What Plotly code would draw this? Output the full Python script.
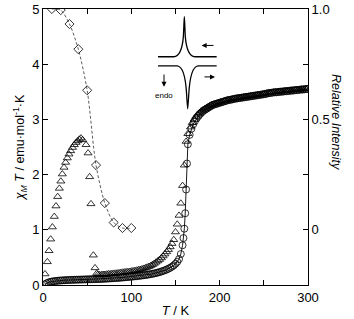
import plotly.graph_objects as go

# ---------------- data ----------------
# circles (chi_M T, left axis)
T_circ = [2, 4, 6, 8, 10, 12, 14, 16, 18, 20,
          22, 24, 26, 28, 30, 32, 34, 36, 38, 40,
          42, 44, 46, 48, 50, 52, 54, 56, 58, 60,
          62, 64, 66, 68, 70, 72, 74, 76, 78, 80,
          82, 84, 86, 88, 90, 92, 94, 96, 98, 100,
          102, 104, 106, 108, 110, 112, 114, 116, 118, 120,
          122, 124, 126, 128, 130, 132, 134, 136, 138, 140,
          142, 144, 146, 148, 150, 152, 154, 156, 158,
          159, 160, 161, 162, 163, 164,
          166, 168, 170, 172, 174, 176, 178, 180, 182, 184,
          186, 188, 190, 192, 194, 196, 198, 200, 202, 204,
          206, 208, 210, 212, 214, 216, 218, 220, 222, 224,
          226, 228, 230, 232, 234, 236, 238, 240, 242, 244,
          246, 248, 250, 252, 254, 256, 258, 260, 262, 264,
          266, 268, 270, 272, 274, 276, 278, 280, 282, 284,
          286, 288, 290, 292, 294, 296, 298, 300]
chiT_circ = [0.01, 0.03, 0.045, 0.055, 0.063, 0.068, 0.072, 0.076, 0.079, 0.082,
             0.084, 0.086, 0.088, 0.09, 0.091, 0.093, 0.094, 0.095, 0.096, 0.097,
             0.098, 0.099, 0.1, 0.101, 0.102, 0.103, 0.104, 0.105, 0.106, 0.107,
             0.108, 0.109, 0.11, 0.112, 0.114, 0.116, 0.118, 0.12, 0.122, 0.124,
             0.126, 0.128, 0.13, 0.133, 0.136, 0.139, 0.142, 0.145, 0.148, 0.151,
             0.154, 0.157, 0.16, 0.164, 0.168, 0.172, 0.176, 0.181, 0.186, 0.191,
             0.197, 0.203, 0.21, 0.217, 0.225, 0.234, 0.244, 0.255, 0.267, 0.28,
             0.295, 0.312, 0.332, 0.356, 0.385, 0.42, 0.47, 0.56, 0.72,
             0.85, 1.02, 1.3, 1.73, 2.2, 2.55,
             2.72, 2.83, 2.91, 2.97, 3.02, 3.06, 3.10, 3.13, 3.16, 3.18,
             3.20, 3.22, 3.24, 3.26, 3.27, 3.28, 3.29, 3.30, 3.31, 3.32,
             3.33, 3.34, 3.35, 3.355, 3.36, 3.37, 3.375, 3.38, 3.385, 3.39,
             3.395, 3.40, 3.405, 3.41, 3.415, 3.42, 3.425, 3.43, 3.435, 3.44,
             3.445, 3.45, 3.455, 3.46, 3.47, 3.475, 3.48, 3.485, 3.49, 3.49,
             3.495, 3.50, 3.50, 3.505, 3.51, 3.51, 3.515, 3.52, 3.52, 3.525,
             3.53, 3.53, 3.535, 3.54, 3.54, 3.545, 3.55, 3.55]

# triangles (chi_M T, left axis)
T_tri = [2.3, 4.9, 6.8, 8.7, 10.6, 12.8, 14.7, 16.6, 18.5, 20.2,
         21.9, 23.8, 25.6, 27.5, 29.4, 31.3, 33.4, 35.4, 37.4, 39.3,
         41.1, 43.0, 44.9, 48.7, 51.0, 52.8, 54.3, 57.0, 58.9, 60.8,
         62, 64, 66, 68, 70, 72, 74, 76, 78, 80,
         82, 84, 86, 88, 90, 92, 94, 96, 98, 100,
         102, 104, 106, 108, 110, 112, 114, 116, 118, 120,
         122, 124, 126, 128, 130, 132, 134, 136, 138, 140,
         142, 144, 146, 148, 150, 152, 154, 156, 158, 160,
         162, 164, 167, 169, 171, 173, 175, 177, 179, 181,
         183, 185, 187, 189, 191, 193, 195, 197, 199, 201,
         203, 205, 207, 209, 211, 213, 215, 217, 219, 221,
         223, 225, 227, 229, 231, 233, 235, 237, 239, 241,
         243, 245, 247, 249, 251, 253, 255, 257, 259, 261,
         263, 265, 267, 269, 271, 273, 275, 277, 279, 281,
         283, 285, 287, 289, 291, 293, 295, 297, 299]
chiT_tri = [0.2, 0.42, 0.62, 0.83, 1.05, 1.24, 1.43, 1.6, 1.75, 1.88,
            2.01, 2.13, 2.22, 2.30, 2.37, 2.43, 2.49, 2.54, 2.58, 2.61,
            2.64, 2.66, 2.63, 2.54, 2.39, 1.96, 1.47, 0.54, 0.31, 0.21,
            0.19, 0.185, 0.185, 0.19, 0.19, 0.195, 0.2, 0.2, 0.205, 0.21,
            0.212, 0.215, 0.22, 0.225, 0.23, 0.233, 0.237, 0.24, 0.245, 0.25,
            0.255, 0.26, 0.267, 0.274, 0.28, 0.29, 0.3, 0.31, 0.322, 0.335,
            0.35, 0.368, 0.39, 0.412, 0.435, 0.46, 0.49, 0.525, 0.56, 0.6,
            0.64, 0.69, 0.75, 0.82, 0.96, 1.1, 1.26, 1.48, 1.8, 2.17,
            2.6, 2.74, 2.86, 2.94, 3.0, 3.05, 3.09, 3.12, 3.15, 3.17,
            3.19, 3.21, 3.23, 3.25, 3.265, 3.275, 3.285, 3.295, 3.305, 3.315,
            3.325, 3.335, 3.345, 3.35, 3.36, 3.365, 3.37, 3.38, 3.385, 3.39,
            3.395, 3.40, 3.405, 3.41, 3.415, 3.42, 3.425, 3.43, 3.435, 3.44,
            3.445, 3.45, 3.455, 3.46, 3.47, 3.475, 3.48, 3.485, 3.49, 3.495,
            3.50, 3.50, 3.505, 3.51, 3.51, 3.515, 3.52, 3.52, 3.525, 3.53,
            3.53, 3.535, 3.54, 3.54, 3.545, 3.55, 3.55, 3.555, 3.56]

# diamonds (relative intensity, right axis)
T_dia = [10, 20, 30, 40, 50, 60, 70, 80, 90, 100]
rel_int = [1.0, 0.995, 0.932, 0.818, 0.632, 0.293, 0.121, 0.033, 0.008, 0.008]

x_ticks = [0, 50, 100, 150, 200, 250, 300]
x_ticklabels = ["0", "", "100", "", "200", "", "300"]
y_ticks = [0, 1, 2, 3, 4, 5]
y2_ticks = [-0.25, 0, 0.25, 0.5, 0.75, 1.0]
y2_ticklabels = ["", "0", "", "0.5", "", "1.0"]

FONT = "Liberation Sans, Arial, Helvetica, sans-serif"

fig = go.Figure()

fig.add_trace(go.Scatter(
    x=T_circ, y=chiT_circ, mode="lines+markers",
    line=dict(color="black", width=0.9),
    marker=dict(symbol="circle-open", size=7, color="black", line=dict(width=0.8)),
    yaxis="y", showlegend=False))

fig.add_trace(go.Scatter(
    x=T_tri, y=chiT_tri, mode="markers",
    marker=dict(symbol="triangle-up-open", size=7, color="black", line=dict(width=0.8)),
    yaxis="y", showlegend=False))

fig.add_trace(go.Scatter(
    x=T_dia, y=rel_int, mode="lines+markers",
    line=dict(color="#333333", width=0.8, dash="3px,2px", shape="spline", smoothing=0.8),
    marker=dict(symbol="diamond-open", size=7, color="black", line=dict(width=0.8)),
    yaxis="y2", showlegend=False))

axis_common = dict(showline=True, linecolor="black", linewidth=1, ticks="inside",
                   ticklen=5, tickcolor="black", tickwidth=1, showgrid=False,
                   zeroline=False, tickfont=dict(family=FONT, size=13, color="black"))

fig.update_layout(
    width=354, height=319,
    margin=dict(l=43, r=46, t=9, b=34),
    paper_bgcolor="white", plot_bgcolor="white",
    font=dict(family=FONT, color="black"),
    hovermode=False,
    xaxis=dict(range=[0, 300], tickvals=x_ticks, ticktext=x_ticklabels, mirror="ticks",
               title=dict(text="<i>T</i> / K", font=dict(family=FONT, size=13), standoff=2),
               automargin=False, **axis_common),
    yaxis=dict(range=[0, 5], tickvals=y_ticks, mirror=False,
               title=dict(text="<i>χ</i><sub><i>M</i></sub> <i>T</i> / emu·mol<sup>-1</sup>·K",
                          font=dict(family=FONT, size=12.5), standoff=4),
               automargin=False, **axis_common),
    yaxis2=dict(range=[-0.25, 1.0], tickvals=y2_ticks, ticktext=y2_ticklabels,
                overlaying="y", side="right", automargin=False, **axis_common),
)

# right axis title (reads top-to-bottom)
fig.add_annotation(text="<i>Relative Intensity</i>", xref="paper", yref="paper",
                   x=1.14, y=0.59, showarrow=False, textangle=90,
                   font=dict(family=FONT, size=12.5, color="black"))

# inset: DSC sketch
up_path = ("M 130.2,4.135 L 148,4.135 C 154.5,4.14 157.6,4.25 158.9,4.5 "
           "C 159.5,4.68 159.8,4.86 160,4.86 C 160.2,4.86 160.5,4.68 161.1,4.5 "
           "C 162.4,4.25 165.5,4.14 172,4.135 L 196.6,4.135")
down_path = ("M 130.2,3.97 L 152,3.97 C 158.3,3.96 161.4,3.8 162.6,3.45 "
             "C 163.3,3.25 163.6,3.19 163.8,3.19 C 164.0,3.19 164.3,3.25 165.0,3.45 "
             "C 166.2,3.8 169.3,3.96 175.6,3.97 L 196.6,3.97")
for p in (up_path, down_path):
    fig.add_shape(type="path", path=p, xref="x", yref="y",
                  line=dict(color="black", width=1.3))

arrow_kw = dict(xref="x", yref="y", axref="x", ayref="y", showarrow=True,
                arrowhead=2, arrowsize=1, arrowwidth=1, arrowcolor="black", text="")
fig.add_annotation(x=179.6, y=4.34, ax=194.7, ay=4.34, **arrow_kw)
fig.add_annotation(x=194.7, y=3.77, ax=181.1, ay=3.77, **arrow_kw)
fig.add_annotation(x=137, y=3.59, ax=137, ay=3.84, **arrow_kw)
fig.add_annotation(text="endo", x=137, y=3.43, xref="x", yref="y", showarrow=False,
                   font=dict(family=FONT, size=8, color="black"))

# remove the default 8px page margin so the figure sits at the window origin
fig.write_html("out.html",
               config={"displayModeBar": False, "staticPlot": True},
               post_script="document.body.style.margin='0';"
                           "document.documentElement.style.overflow='hidden';")
